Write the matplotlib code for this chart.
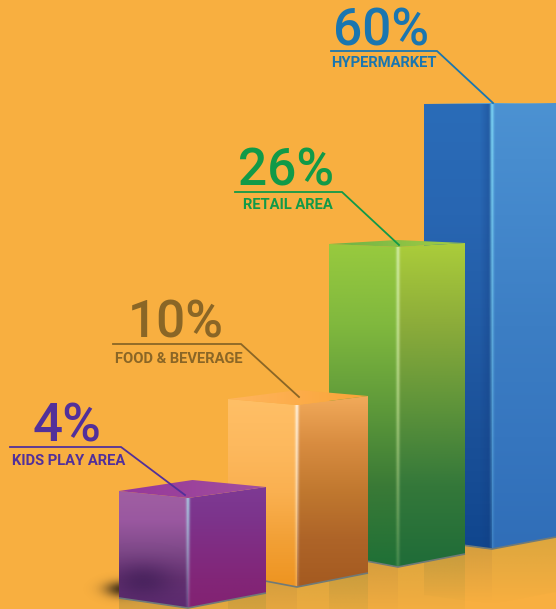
import matplotlib
matplotlib.use('Agg')
import matplotlib.pyplot as plt
import numpy as np
from matplotlib.colors import LinearSegmentedColormap, to_rgb
from matplotlib.patches import Polygon

# data
categories = ['KIDS PLAY AREA', 'FOOD & BEVERAGE', 'RETAIL AREA', 'HYPERMARKET']
shares = [4, 10, 26, 60]
# the bars are not drawn to scale, so their heights are read separately
drawn_heights = [110, 182, 320, 445]

BG = '#f8af40'
text_colors = ['#52309a', '#8a6626', '#119a48', '#1a76b0']

# bar layout, in image pixels
front_x = [188, 297, 398, 492]
left_w = [69, 69, 69, 68]
right_w = [78, 71, 67, 70]
front_bottom = [608, 587, 567, 549]
left_drop = [10, 13, 13, 9]
right_drop = [15, 14, 13, 12]
top_left_rise = [7, 6, 3, 0]
top_right_rise = [11, 9, 4, 1]

left_stops = [
    ['#a05fa2', '#9a58a0', '#804a8a', '#663272', '#5c2a70'],
    ['#ffbf66', '#fdb95e', '#fab050', '#f2a036', '#ee9420'],
    ['#98ca3e', '#80b83e', '#5f9a3a', '#3a7a36', '#1f7036'],
    ['#2a6cb8', '#2866b2', '#225ca6', '#1a5098', '#10468e'],
]
right_stops = [
    ['#7e3a94', '#7c348c', '#802c82', '#822678', '#822272'],
    ['#f2aa5a', '#d88c40', '#c0782f', '#ae6428', '#a45a20'],
    ['#abcd3a', '#8cac3a', '#5f943a', '#34783a', '#1f6c38'],
    ['#4c92d2', '#4488cc', '#3c7ec4', '#3676bf', '#306eb8'],
]
top_colors = [
    ('#96389a', '#a24f9e'),
    ('#ffb55e', '#faa436'),
    ('#6cb146', '#a6cf44'),
    ('#3c8ad0', '#5cb0e6'),
]
shine_colors = ['#a8c8e0', '#fff0dc', '#cfeaa0', '#7cd4f4']

# label layout: value anchor, rule ends, pointer tip, name anchor
value_xy = [(67, 441), (176, 338), (286, 185), (381, 45)]
rule_x = [(10, 121), (113, 241), (235, 342), (331, 437)]
rule_y = [447, 344, 192, 51]
tips = [(185, 495), (299, 397), (399, 245), (493, 103)]
name_xy = [(68.5, 465), (178.5, 363), (287.5, 209), (384, 67)]
value_size = [38, 37, 37, 37]
name_size = 10.6


def clipped(ax, im, pts):
    clip = Polygon(pts, closed=True, transform=ax.transData, fc='none', ec='none')
    ax.add_patch(clip)
    im.set_clip_path(clip)


def gradient_poly(ax, pts, colors, horizontal=False, zorder=2):
    pts = np.array(pts, dtype=float)
    x0, x1 = pts[:, 0].min(), pts[:, 0].max()
    y0, y1 = pts[:, 1].min(), pts[:, 1].max()
    cmap = LinearSegmentedColormap.from_list('g', colors)
    grad = np.linspace(0, 1, 256)
    grad = grad[None, :] if horizontal else grad[:, None]
    im = ax.imshow(grad, cmap=cmap, extent=[x0, x1, y1, y0], aspect='auto',
                   interpolation='bilinear', zorder=zorder)
    clipped(ax, im, pts)


def fade_poly(ax, pts, color, top_alpha, horizontal=False, zorder=1.5, reverse=False):
    pts = np.array(pts, dtype=float)
    x0, x1 = pts[:, 0].min(), pts[:, 0].max()
    y0, y1 = pts[:, 1].min(), pts[:, 1].max()
    rgba = np.zeros((256, 1, 4))
    rgba[..., :3] = to_rgb(color)
    rgba[:, 0, 3] = np.linspace(top_alpha, 0, 256)
    if reverse:
        rgba = rgba[::-1]
    if horizontal:
        rgba = rgba.transpose(1, 0, 2)
    im = ax.imshow(rgba, extent=[x0, x1, y1, y0], aspect='auto',
                   interpolation='bilinear', zorder=zorder)
    clipped(ax, im, pts)


def soft_blob(ax, cx, cy, rx, ry, color, strength, zorder, clip_pts=None):
    # soft dark spot with a gaussian falloff
    xs = np.linspace(-2.5, 2.5, 200)
    gx, gy = np.meshgrid(xs, xs)
    rgba = np.zeros((200, 200, 4))
    rgba[..., :3] = to_rgb(color)
    rgba[..., 3] = strength * np.exp(-(gx ** 2 + gy ** 2))
    im = ax.imshow(rgba, extent=[cx - 2.5 * rx, cx + 2.5 * rx, cy + 2.5 * ry, cy - 2.5 * ry],
                   aspect='auto', interpolation='bilinear', zorder=zorder)
    if clip_pts is not None:
        clipped(ax, im, clip_pts)


def draw_shine(ax, fx, ft, fb, color, zorder):
    # bright soft strip down the front edge, fading towards the floor
    xs = np.linspace(-1, 1, 40)
    ys = np.linspace(0, 1, 200)
    gx, gy = np.meshgrid(xs, ys)
    rgba = np.zeros((200, 40, 4))
    rgba[..., :3] = to_rgb(color)
    rgba[..., 3] = np.exp(-(gx * 2.1) ** 2) * (0.95 - 0.75 * gy)
    ax.imshow(rgba, extent=[fx - 4, fx + 4, fb, ft], aspect='auto',
              interpolation='bilinear', zorder=zorder)


def draw_bar(ax, i, z):
    fx = front_x[i]
    lx = fx - left_w[i]
    rx = min(fx + right_w[i], 556)
    fb = front_bottom[i]
    ft = fb - drawn_heights[i]
    lb, rb = fb - left_drop[i], fb - right_drop[i]
    lt, rt = ft - top_left_rise[i], ft - top_right_rise[i]
    back = (fx + (right_w[i] - left_w[i]) / 2, lt + rt - ft)

    # reflection on the floor
    depth = 55
    fade_poly(ax, [(lx, lb), (fx, fb), (fx, fb + depth), (lx, lb + depth)], '#8c7c3c', 0.36, zorder=z - 0.5)
    fade_poly(ax, [(fx, fb), (rx, rb), (rx, rb + depth), (fx, fb + depth)], '#a8963c', 0.34, zorder=z - 0.5)

    left = [(lx, lt), (fx, ft), (fx, fb), (lx, lb)]
    right = [(fx, ft), (rx, rt), (rx, rb), (fx, fb)]
    gradient_poly(ax, left, left_stops[i], zorder=z)
    gradient_poly(ax, right, right_stops[i], zorder=z)
    gradient_poly(ax, [(lx, lt), back, (rx, rt), (fx, ft)], top_colors[i], horizontal=True, zorder=z)

    # darker strip next to the front edge on the tall bar
    if i == 3:
        fade_poly(ax, [(fx - 12, ft), (fx, ft), (fx, fb), (fx - 12, fb)], '#143c80', 0.45,
                  horizontal=True, zorder=z + 0.1, reverse=True)

    draw_shine(ax, fx, ft, fb, shine_colors[i], z + 0.2)
    # grey line under the bar
    ax.plot([lx, fx, rx], [lb, fb, rb], color='#6f7a78', lw=1.2, zorder=z + 0.3, solid_capstyle='butt')


fig = plt.figure(figsize=(5.56, 6.09), dpi=100, facecolor=BG)
ax = fig.add_axes([0, 0, 1, 1])
ax.set_facecolor(BG)

# shadow at the foot of the smallest bar
soft_blob(ax, 122, 589, 17, 8, '#2a2014', 0.85, 7)

# back to front
for i, z in zip([3, 2, 1, 0], [2, 4, 6, 8]):
    draw_bar(ax, i, z)

# dark patch low on the purple bar's left face
soft_blob(ax, 143, 581, 30, 17, '#43205a', 0.75, 8.1,
          clip_pts=[(119, 491), (186, 498), (186, 608), (119, 598)])

# labels and pointer lines
for i in range(4):
    c = text_colors[i]
    ax.text(value_xy[i][0], value_xy[i][1], '{}%'.format(shares[i]), color=c, ha='center',
            va='baseline', fontsize=value_size[i], family='Roboto', fontweight='medium', zorder=12)
    ax.plot([rule_x[i][0], rule_x[i][1], tips[i][0]], [rule_y[i], rule_y[i], tips[i][1]],
            color=c, lw=1.3, zorder=12, solid_joinstyle='miter')
    ax.text(name_xy[i][0], name_xy[i][1], categories[i], color=c, ha='center', va='baseline',
            fontsize=name_size, family='Roboto', fontweight='bold', zorder=12)

ax.set_xlim(0, 556)
ax.set_ylim(609, 0)
ax.axis('off')
fig.savefig('out.png', dpi=100, facecolor=BG)
